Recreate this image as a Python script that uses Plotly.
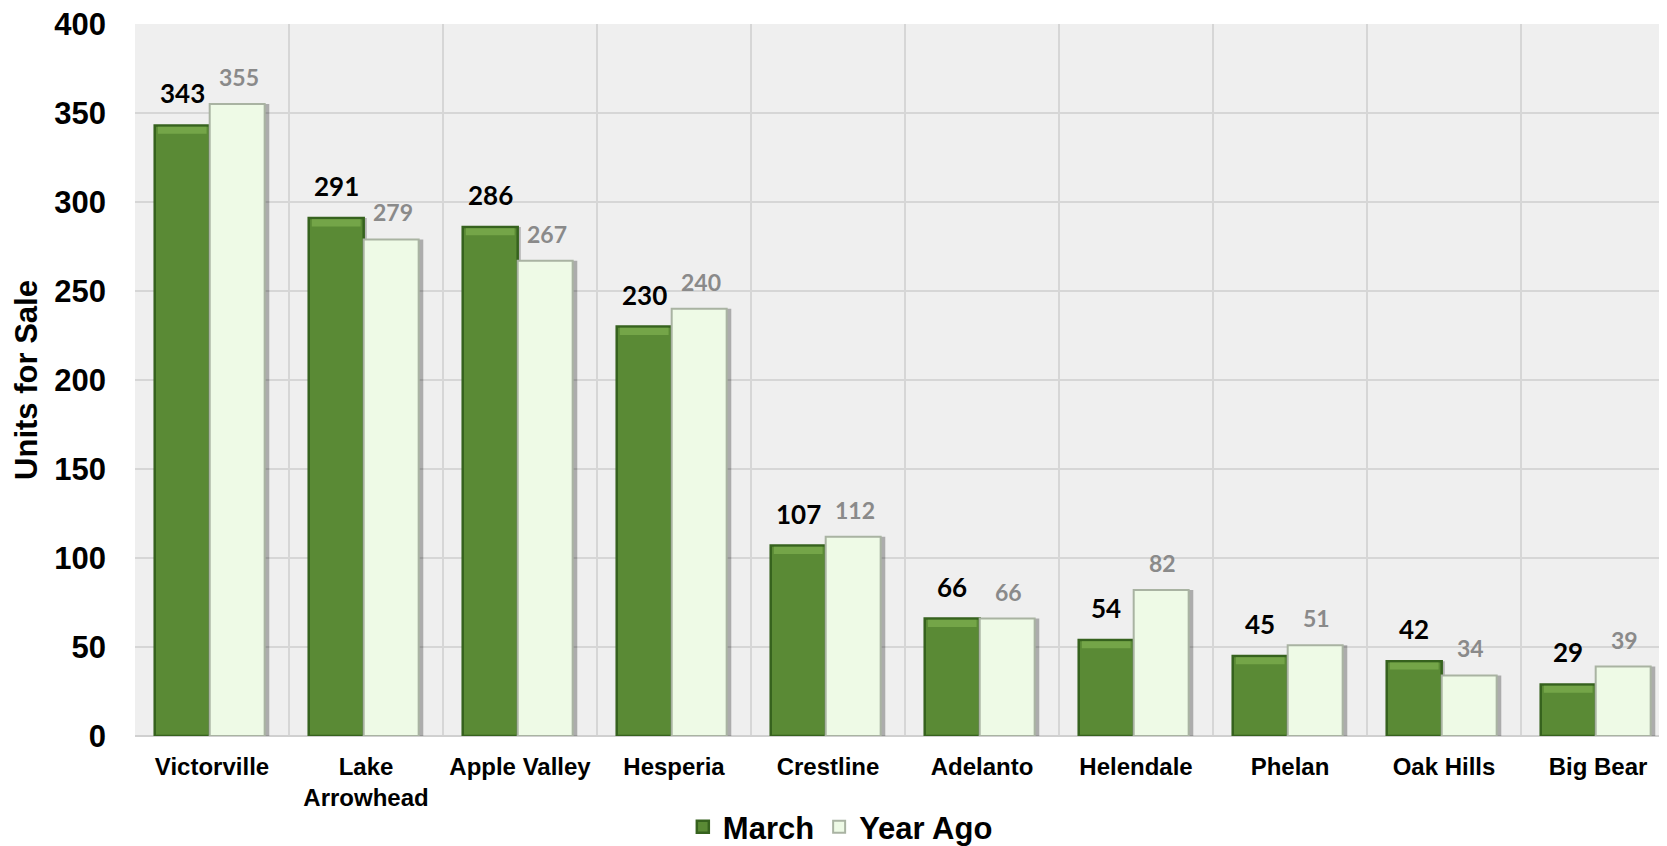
import plotly.graph_objects as go

categories = ["Victorville", "Lake<br>Arrowhead", "Apple Valley", "Hesperia", "Crestline",
              "Adelanto", "Helendale", "Phelan", "Oak Hills", "Big Bear"]
march = [343, 291, 286, 230, 107, 66, 54, 45, 42, 29]
year_ago = [355, 279, 267, 240, 112, 66, 82, 51, 34, 39]
y_ticks = [0, 50, 100, 150, 200, 250, 300, 350, 400]

BW = 0.357
SH = -0.015  # small leftward shift of the bar group
BEVEL = 4.0  # highlight band height in data units
fig = go.Figure()

# soft shadows behind the bars
fig.add_trace(go.Bar(x=categories, y=march, width=BW, offset=-BW + 0.02 + SH,
                     marker=dict(color="rgba(0,0,0,0.25)", line=dict(width=0)),
                     showlegend=False, hoverinfo="skip"))
fig.add_trace(go.Bar(x=categories, y=year_ago, width=BW, offset=0.03 + SH,
                     marker=dict(color="rgba(0,0,0,0.28)", line=dict(width=0)),
                     showlegend=False, hoverinfo="skip"))

fig.add_trace(go.Bar(name="March", x=categories, y=march, width=BW, offset=-BW + SH,
                     marker=dict(color="#5a8a35", line=dict(color="#36621e", width=2.5))))
fig.add_trace(go.Bar(name="Year Ago", x=categories, y=year_ago, width=BW, offset=SH,
                     marker=dict(color="#eefae6", line=dict(color="#a9b3a2", width=2))))

# bevel highlight along the March bar tops
fig.add_trace(go.Bar(x=categories, y=[BEVEL] * len(march), base=[v - BEVEL - 0.7 for v in march],
                     width=BW - 0.04, offset=-BW + 0.02 + SH,
                     marker=dict(color="#74a548", line=dict(width=0)),
                     showlegend=False, hoverinfo="skip"))

annotations = []
for i, (m, y) in enumerate(zip(march, year_ago)):
    annotations.append(dict(x=i - BW / 2 + SH, y=m, xref="x", yref="y", text=str(m), showarrow=False,
                            yshift=32, yanchor="middle",
                            font=dict(family="Lato", size=26, color="#000000", weight="bold")))
    annotations.append(dict(x=i + BW / 2 + 0.01 + SH, y=y, xref="x", yref="y", text=str(y), showarrow=False,
                            yshift=27, yanchor="middle",
                            font=dict(family="Lato", size=23, color="#8a8a8a", weight="bold")))

# note: the page body adds an 8px offset, margins compensate for it
fig.update_layout(
    width=1667, height=846,
    margin=dict(l=127, r=0, t=16, b=117),
    barmode="overlay",
    paper_bgcolor="#ffffff",
    plot_bgcolor="#efefef",
    font=dict(family="Liberation Sans", color="#000000"),
    annotations=annotations,
    showlegend=True,
    legend=dict(orientation="h", x=0.458, xanchor="center", y=-0.128, yanchor="middle",
                font=dict(family="Liberation Sans", size=31, color="#000000", weight="bold"),
                itemwidth=30, bgcolor="rgba(0,0,0,0)"),
    xaxis=dict(type="category", range=[-0.5, 9.5], tickson="boundaries", automargin=False,
               showgrid=True, gridcolor="#d6d6d6", gridwidth=1.5, ticks="",
               tickfont=dict(family="Liberation Sans", size=24, color="#000000", weight="bold"),
               ticklabelstandoff=14, ticklabeloverflow="allow", showline=False, zeroline=False),
    yaxis=dict(range=[0, 400], tickvals=y_ticks, showgrid=True, gridcolor="#d6d6d6", gridwidth=1.5,
               automargin=False, ticklabeloverflow="allow",
               zeroline=True, zerolinecolor="#d0d0d0", zerolinewidth=1.5,
               tickfont=dict(family="Liberation Sans", size=31, color="#000000", weight="bold"),
               ticklabelstandoff=28, ticks="",
               title=dict(text="Units for Sale", standoff=7,
                          font=dict(family="Liberation Sans", size=31, color="#000000", weight="bold"))),
)

fig.write_html("out.html")
